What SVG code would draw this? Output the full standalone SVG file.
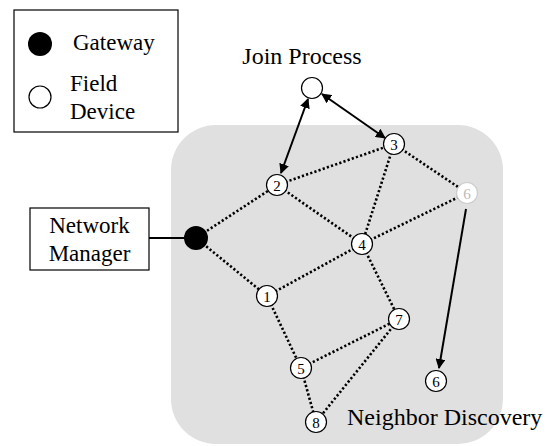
<svg xmlns="http://www.w3.org/2000/svg" width="549" height="446" viewBox="0 0 549 446">
<style>
text{font-family:"Liberation Serif","Times New Roman",serif;fill:#000}
.lbl{font-size:23px}
.big{font-size:24px}
.num{font-size:15px;text-anchor:middle}
.node{fill:#fff;stroke:#000;stroke-width:1.2}
.dot{stroke:#000;stroke-width:2.6;stroke-dasharray:2.2 2.2;fill:none}
.arr{stroke:#000;stroke-width:2;fill:none}
</style>
<defs>
<marker id="ah" viewBox="0 0 10 10" refX="9" refY="5" markerWidth="5" markerHeight="5" orient="auto-start-reverse" markerUnits="strokeWidth">
<path d="M0,0 L10,5 L0,10 Z" fill="#000"/>
</marker>
</defs>
<rect id="region" x="171" y="125" width="332" height="319" rx="45" fill="#e0e0e0"/>
<g id="legend">
<rect x="14" y="10" width="164" height="122" fill="#fff" stroke="#000" stroke-width="1.2"/>
<circle cx="40" cy="44" r="12" fill="#000"/>
<text x="73" y="50" class="lbl">Gateway</text>
<circle cx="40" cy="97" r="11" fill="#fff" stroke="#000" stroke-width="1.2"/>
<text x="70" y="91" class="lbl">Field</text>
<text x="70" y="119" class="lbl">Device</text>
</g>
<g id="connectors">
<line class="dot" x1="196" y1="238" x2="277" y2="185"/>
<line class="dot" x1="196" y1="238" x2="267" y2="296"/>
<line class="dot" x1="277" y1="185" x2="394" y2="144"/>
<line class="dot" x1="277" y1="185" x2="362" y2="244"/>
<line class="dot" x1="394" y1="144" x2="362" y2="244"/>
<line class="dot" x1="394" y1="144" x2="467" y2="193"/>
<line class="dot" x1="467" y1="193" x2="362" y2="244"/>
<line class="dot" x1="362" y1="244" x2="267" y2="296"/>
<line class="dot" x1="362" y1="244" x2="399" y2="319"/>
<line class="dot" x1="267" y1="296" x2="301" y2="368"/>
<line class="dot" x1="301" y1="368" x2="399" y2="319"/>
<line class="dot" x1="399" y1="319" x2="316" y2="422"/>
<line class="dot" x1="301" y1="368" x2="316" y2="422"/>
<line x1="149" y1="238" x2="190" y2="238" stroke="#000" stroke-width="2"/>
<line class="arr" x1="308" y1="99" x2="281" y2="173" marker-start="url(#ah)" marker-end="url(#ah)"/>
<line class="arr" x1="322" y1="94" x2="385" y2="138" marker-start="url(#ah)" marker-end="url(#ah)"/>
<line class="arr" x1="466" y1="209" x2="439" y2="368" marker-end="url(#ah)"/>
</g>
<g id="manager">
<rect x="30" y="208" width="119" height="62" fill="#fff" stroke="#000" stroke-width="1.2"/>
<text x="89.5" y="233" class="lbl" text-anchor="middle">Network</text>
<text x="89.5" y="261" class="lbl" text-anchor="middle">Manager</text>
</g>
<g id="gateway"><circle cx="196" cy="238" r="12" fill="#000"/></g>
<g id="join"><circle cx="312" cy="88" r="10.5" class="node"/><text x="302" y="64" class="big" text-anchor="middle">Join Process</text></g>
<g id="n2"><circle cx="277" cy="185" r="10.5" class="node"/><text x="277" y="190.5" class="num">2</text></g>
<g id="n3"><circle cx="394" cy="144" r="10.5" class="node"/><text x="394" y="149.5" class="num">3</text></g>
<g id="n4"><circle cx="362" cy="244" r="10.5" class="node"/><text x="362" y="249.5" class="num">4</text></g>
<g id="n1"><circle cx="267" cy="296" r="10.5" class="node"/><text x="267" y="301.5" class="num">1</text></g>
<g id="n7"><circle cx="399" cy="319" r="10.5" class="node"/><text x="399" y="324.5" class="num">7</text></g>
<g id="n5"><circle cx="301" cy="368" r="10.5" class="node"/><text x="301" y="373.5" class="num">5</text></g>
<g id="n8"><circle cx="316" cy="422" r="10.5" class="node"/><text x="316" y="427.5" class="num">8</text></g>
<g id="n6ghost"><circle cx="467" cy="193" r="10.5" fill="#fff" stroke="#ccc" stroke-width="1.2"/><text x="467" y="198.5" class="num" style="fill:#bbb">6</text></g>
<g id="n6"><circle cx="436" cy="381" r="10.5" class="node"/><text x="436" y="386.5" class="num">6</text></g>
<g id="nd"><text x="347" y="425" class="big">Neighbor Discovery</text></g>
</svg>
